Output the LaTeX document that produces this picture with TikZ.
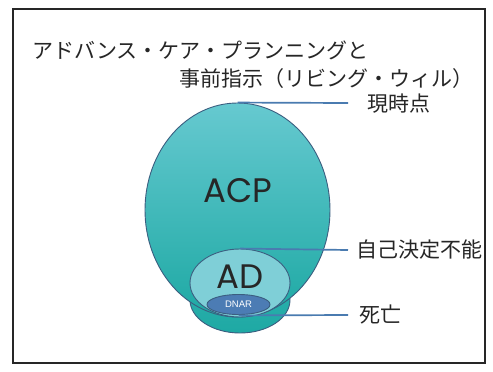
\documentclass[tikz,border=0pt]{standalone}
\usepackage{fontspec}
\setmainfont{Liberation Sans}
\newfontfamily\jpfont{Noto Sans CJK JP}
\newfontfamily\bigfont{Poppins}
\usetikzlibrary{shapes.geometric}
\definecolor{edgec}{HTML}{3B5E80}
\definecolor{linec}{HTML}{4A7BB0}
\definecolor{tealtop}{HTML}{66C9D0}
\definecolor{tealbot}{HTML}{1EA9A4}
\definecolor{adfill}{HTML}{7FCFD7}
\definecolor{dnarfill}{HTML}{4C7CB4}
\definecolor{txt}{HTML}{262626}
\tikzset{
  blob/.style={ellipse, draw=edgec, line width=0.9pt, inner sep=0pt},
  leader/.style={draw=linec, line width=1.7pt},
  jplabel/.style={anchor=west, inner sep=0pt, text=txt, font=\jpfont\fontsize{21}{24}\selectfont},
}
\begin{document}
\begin{tikzpicture}[x=1pt,y=-1pt]
\useasboundingbox (0,0) rectangle (493,372);
\fill[white] (0,0) rectangle (493,372);
\draw[line width=2.5pt, color=black!85] (13,9) rectangle (485,363);
% title
\node[jplabel] (t1) at (32,50) {アドバンス・ケア・プランニングと};
\node[jplabel] (t2) at (179,79) {事前指示（リビング・ウィル）};
% shapes
\node[blob, minimum width=100pt, minimum height=66pt, top color=tealbot!75!tealtop, bottom color=tealbot] (bulge) at (240,300) {};
\node[blob, minimum width=185pt, minimum height=214pt, top color=tealtop, bottom color=tealbot] (acp) at (237.5,210) {};
\node[font=\bigfont\fontsize{34}{36}\selectfont, text=txt] (acpt) at (238,191) {ACP};
\node[blob, minimum width=100pt, minimum height=68pt, fill=adfill] (ad) at (240,283) {};
\node[font=\bigfont\fontsize{34}{36}\selectfont, text=txt] (adt) at (240,277) {AD};
\node[blob, minimum width=63pt, minimum height=20pt, fill=dnarfill] (dnar) at (238.5,304.5) {};
\node[font=\fontsize{9.5}{10}\selectfont, text=white] (dnart) at (238.5,304.5) {DNAR};
% leaders
\coordinate (e1) at (348,103);
\coordinate (e2) at (348,250);
\coordinate (e3) at (348,315);
\draw[leader] (acp.north) -- (e1);
\draw[leader] (ad.north) -- (e2);
\draw[leader] (dnar.south) ++(0,0.5) -- (e3);
\node[jplabel] (l1) at (367,104) {現時点};
\node[jplabel] (l2) at (356,250) {自己決定不能};
\node[jplabel] (l3) at (359,315) {死亡};
\end{tikzpicture}
\end{document}
